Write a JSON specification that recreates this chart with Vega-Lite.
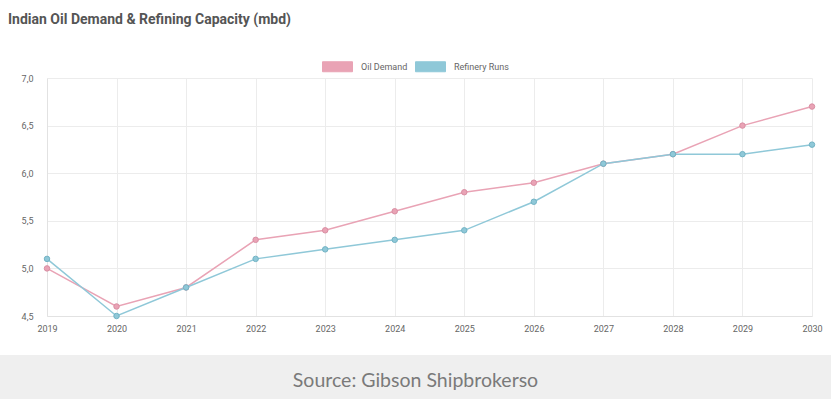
{
  "$schema": "https://vega.github.io/schema/vega-lite/v6.json",
  "background": "white",
  "padding": {"top": 13, "left": 0, "right": 0, "bottom": 0},
  "spacing": 0,
  "title": {
    "text": "Indian Oil Demand & Refining Capacity (mbd)",
    "anchor": "start",
    "frame": "bounds",
    "dx": 8,
    "font": "Roboto",
    "fontSize": 14,
    "fontWeight": "bold",
    "color": "#555555",
    "offset": 29
  },
  "config": {
    "view": {"stroke": null},
    "axis": {
      "labelFont": "Roboto",
      "labelFontSize": 9,
      "labelColor": "#666666",
      "gridColor": "#ececec",
      "domainColor": "#e2e2e2",
      "ticks": false,
      "title": null
    }
  },
  "vconcat": [
    {
      "spacing": 0,
      "hconcat": [
        {
          "width": 1,
          "height": 1,
          "data": {"values": [{"t": " "}]},
          "mark": {"type": "text"},
          "encoding": {"text": {"field": "t", "type": "nominal"}}
        },
        {
          "width": 765,
          "height": 238,
          "data": {
            "values": [
              {"year": 2019, "series": "Oil Demand", "value": 5.0},
              {"year": 2020, "series": "Oil Demand", "value": 4.6},
              {"year": 2021, "series": "Oil Demand", "value": 4.8},
              {"year": 2022, "series": "Oil Demand", "value": 5.3},
              {"year": 2023, "series": "Oil Demand", "value": 5.4},
              {"year": 2024, "series": "Oil Demand", "value": 5.6},
              {"year": 2025, "series": "Oil Demand", "value": 5.8},
              {"year": 2026, "series": "Oil Demand", "value": 5.9},
              {"year": 2027, "series": "Oil Demand", "value": 6.1},
              {"year": 2028, "series": "Oil Demand", "value": 6.2},
              {"year": 2029, "series": "Oil Demand", "value": 6.5},
              {"year": 2030, "series": "Oil Demand", "value": 6.7},
              {"year": 2019, "series": "Refinery Runs", "value": 5.1},
              {"year": 2020, "series": "Refinery Runs", "value": 4.5},
              {"year": 2021, "series": "Refinery Runs", "value": 4.8},
              {"year": 2022, "series": "Refinery Runs", "value": 5.1},
              {"year": 2023, "series": "Refinery Runs", "value": 5.2},
              {"year": 2024, "series": "Refinery Runs", "value": 5.3},
              {"year": 2025, "series": "Refinery Runs", "value": 5.4},
              {"year": 2026, "series": "Refinery Runs", "value": 5.7},
              {"year": 2027, "series": "Refinery Runs", "value": 6.1},
              {"year": 2028, "series": "Refinery Runs", "value": 6.2},
              {"year": 2029, "series": "Refinery Runs", "value": 6.2},
              {"year": 2030, "series": "Refinery Runs", "value": 6.3}
            ]
          },
          "encoding": {
            "x": {
              "field": "year",
              "type": "quantitative",
              "scale": {"domain": [2019, 2030], "nice": false, "zero": false},
              "axis": {
                "values": [2019, 2020, 2021, 2022, 2023, 2024, 2025, 2026, 2027, 2028, 2029, 2030],
                "format": "d",
                "labelPadding": 8,
                "minExtent": 39,
                "maxExtent": 39,
                "labelFlush": false,
                "labelOverlap": false
              }
            },
            "y": {
              "field": "value",
              "type": "quantitative",
              "scale": {"domain": [4.5, 7], "nice": false, "zero": false},
              "axis": {
                "values": [4.5, 5, 5.5, 6, 6.5, 7],
                "labelExpr": "replace(format(datum.value, '.1f'), '.', ',')",
                "labelPadding": 14,
                "minExtent": 46,
                "maxExtent": 46
              }
            }
          },
          "layer": [
            {
              "mark": {"type": "line", "strokeWidth": 1.5},
              "encoding": {
                "color": {
                  "field": "series",
                  "type": "nominal",
                  "scale": {"domain": ["Oil Demand", "Refinery Runs"], "range": ["#e9a3b5", "#8fc8d8"]},
                  "legend": {
                    "title": null,
                    "orient": "none",
                    "direction": "horizontal",
                    "legendX": 327,
                    "legendY": -22,
                    "symbolType": "M-1.5,-0.5H1.5V0.5H-1.5Z",
                    "symbolSize": 400,
                    "symbolStrokeWidth": 1,
                    "symbolOpacity": 0.55,
                    "labelOffset": 13,
                    "columnPadding": 5,
                    "labelFont": "Roboto",
                    "labelFontSize": 9,
                    "labelColor": "#666666"
                  }
                }
              }
            },
            {
              "mark": {"type": "point", "filled": true, "size": 30, "opacity": 1, "strokeWidth": 1},
              "encoding": {
                "color": {"field": "series", "type": "nominal"},
                "stroke": {
                  "field": "series",
                  "type": "nominal",
                  "scale": {"domain": ["Oil Demand", "Refinery Runs"], "range": ["#d98ea3", "#72b3c4"]},
                  "legend": null
                }
              }
            }
          ]
        }
      ]
    },
    {
      "width": 831,
      "height": 47,
      "view": {"fill": "#efefef", "stroke": null},
      "data": {"values": [{"label": "Source: Gibson Shipbrokerso"}]},
      "mark": {"type": "text", "font": "Lato", "fontSize": 19.5, "color": "#7a7a7a", "dy": 2},
      "encoding": {"text": {"field": "label", "type": "nominal"}}
    }
  ]
}
